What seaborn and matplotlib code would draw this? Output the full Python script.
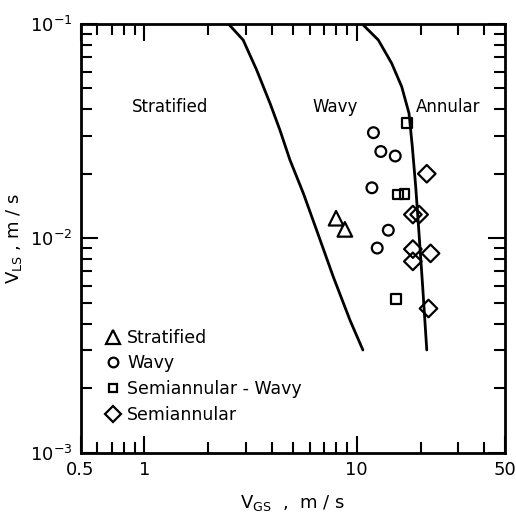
import numpy as np
import pandas as pd
import matplotlib
matplotlib.use("Agg")
import matplotlib.pyplot as plt
from matplotlib.lines import Line2D
from matplotlib.ticker import FixedLocator, NullFormatter, LogLocator
import seaborn as sns

# ---- data ----
strat_x = [8.0, 8.8]
strat_y = [0.0124, 0.0110]
wavy_x = [12.0, 13.0, 15.2, 11.8, 14.1, 12.5]
wavy_y = [0.0311, 0.0254, 0.0242, 0.0172, 0.0109, 0.0090]
semiwavy_x = [17.2, 15.7, 16.8, 15.3]
semiwavy_y = [0.0346, 0.0160, 0.0161, 0.0052]
semi_x = [21.4, 18.4, 19.7, 18.4, 22.3, 18.4, 21.8]
semi_y = [0.0200, 0.0129, 0.0129, 0.0089, 0.0085, 0.0078, 0.0047]

curve1_x = [2.49, 2.92, 3.38, 3.91, 4.35, 4.85, 5.61, 6.48, 7.76, 9.30, 10.7]
curve1_y = [0.1, 0.0842, 0.0610, 0.0426, 0.0320, 0.0232, 0.0162, 0.0109, 0.00661, 0.00415, 0.00301]
curve2_x = [10.63, 12.65, 14.63, 16.3, 17.65, 18.29, 18.98, 19.67, 20.47, 21.4]
curve2_y = [0.1, 0.0842, 0.0655, 0.051, 0.0383, 0.0268, 0.0174, 0.01055, 0.00594, 0.00301]

labels = ["Stratified", "Wavy", "Semiannular - Wavy", "Semiannular"]
region_labels = ["Stratified", "Wavy", "Annular"]
region_x = [1.32, 7.9, 27.0]
region_y = [0.041, 0.041, 0.041]

sns.set_theme(style="ticks")
plt.rcParams['font.family'] = ['DejaVu Sans']
plt.rcParams['text.color'] = 'black'
plt.rcParams['axes.labelcolor'] = 'black'

fig = plt.figure(figsize=(5.16, 5.15), dpi=100)
ax = fig.add_axes([80.5/516, 1-452.5/515, (505-80.5)/516, (452.5-24)/515])

df = pd.DataFrame({
    "x": strat_x + wavy_x + semiwavy_x + semi_x,
    "y": strat_y + wavy_y + semiwavy_y + semi_y,
    "regime": [labels[0]]*len(strat_x) + [labels[1]]*len(wavy_x)
              + [labels[2]]*len(semiwavy_x) + [labels[3]]*len(semi_x),
})

markers = {labels[0]: "^", labels[1]: "o", labels[2]: "s", labels[3]: "D"}
sizes = {labels[0]: 110, labels[1]: 60, labels[2]: 50, labels[3]: 80}

for lab in labels:
    sub = df[df.regime == lab]
    sns.scatterplot(data=sub, x="x", y="y", marker=markers[lab], s=sizes[lab],
                    facecolor="none", edgecolor="black", linewidth=1.6, ax=ax,
                    legend=False, zorder=3)

c1 = pd.DataFrame({"x": curve1_x, "y": curve1_y})
c2 = pd.DataFrame({"x": curve2_x, "y": curve2_y})
sns.lineplot(data=c1, x="x", y="y", sort=False, estimator=None, color="black", lw=2, ax=ax)
sns.lineplot(data=c2, x="x", y="y", sort=False, estimator=None, color="black", lw=2, ax=ax)

ax.set_xscale("log")
ax.set_yscale("log")
ax.set_xlim(0.5, 50)
ax.set_ylim(1e-3, 1e-1)

ax.xaxis.set_major_locator(FixedLocator([0.5, 1, 10, 50]))
ax.set_xticklabels(["0.5", "1", "10", "50"])
ax.xaxis.set_minor_locator(FixedLocator([0.6, 0.7, 0.8, 0.9, 2, 3, 4, 5, 6, 7, 8, 9, 20, 30, 40]))
ax.xaxis.set_minor_formatter(NullFormatter())
ax.yaxis.set_major_locator(FixedLocator([1e-3, 1e-2, 1e-1]))
ax.set_yticklabels([r"$10^{-3}$", r"$10^{-2}$", r"$10^{-1}$"])
ax.yaxis.set_minor_locator(LogLocator(base=10, subs=np.arange(2, 10)))
ax.yaxis.set_minor_formatter(NullFormatter())

ax.tick_params(which="both", direction="in", top=True, right=True, colors="black",
               labelcolor="black", labelsize=13, width=1.5, pad=6)
ax.tick_params(which="major", length=12)
ax.tick_params(which="minor", length=8)
for s in ax.spines.values():
    s.set_linewidth(2)
    s.set_color("black")

ax.set_xlabel(r"V$_{\rm GS}$  ,  m / s", fontsize=13, labelpad=10)
ax.set_ylabel(r"V$_{\rm LS}$ , m / s", fontsize=13, labelpad=4)

for t, xx, yy in zip(region_labels, region_x, region_y):
    ax.text(xx, yy, t, fontsize=12, ha="center", va="center", color="black")

handles = [Line2D([], [], linestyle="none", marker=markers[l], markerfacecolor="none",
                  markeredgecolor="black", markeredgewidth=1.6,
                  markersize=np.sqrt(sizes[l]) * 0.9) for l in labels]
leg = ax.legend(handles, labels, loc="lower left", bbox_to_anchor=(0.02, 0.03), frameon=False,
                fontsize=12.5, handletextpad=0.3, labelspacing=0.45, handlelength=1.0)
for t in leg.get_texts():
    t.set_color("black")

fig.savefig("out.png", dpi=100, facecolor="white")
